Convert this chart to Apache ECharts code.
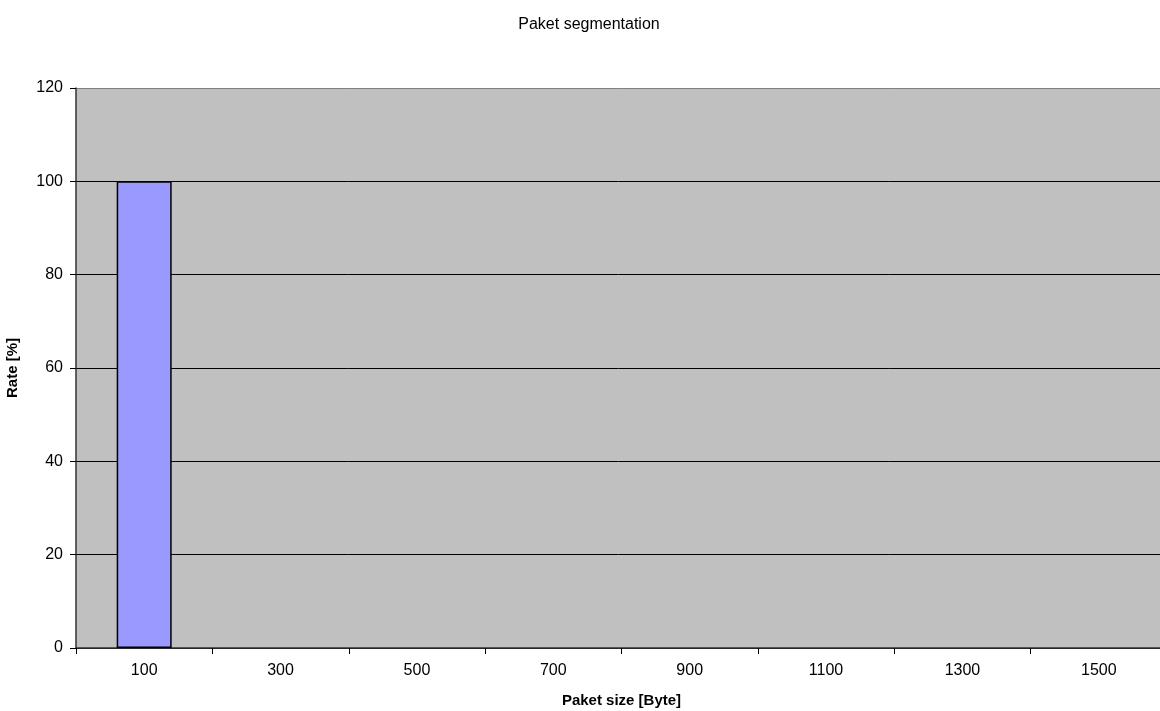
<!DOCTYPE html>
<html><head><meta charset="utf-8">
<script src="https://cdn.jsdelivr.net/npm/echarts@6/dist/echarts.min.js"></script>
<style>html,body{margin:0;padding:0;background:#fff}#c{width:1160px;height:711px}</style>
</head><body><div id="c"></div>
<script>
const categories = ['100','300','500','700','900','1100','1300','1500'];
const rateValues = [100, 0, 0, 0, 0, 0, 0, 0];
const yTicks = [0, 20, 40, 60, 80, 100, 120];

const chart = echarts.init(document.getElementById('c'), null, {renderer:'canvas'});
const font = 'Liberation Sans, Arial, sans-serif';
const barData = rateValues.map(v => v === 0 ? {value: v, itemStyle: {borderWidth: 0}} : v);
chart.setOption({
  animation: false,
  title: {
    text: 'Paket segmentation', left: 584, textAlign: 'center', top: 12,
    textStyle: {fontFamily: font, fontSize: 16, fontWeight: 'normal', color: '#000'}
  },
  grid: {left: 76, top: 88, width: 1091, height: 560, show: true,
    backgroundColor: '#c0c0c0', borderWidth: 0, outerBoundsMode: 'none', containLabel: false},
  xAxis: {
    type: 'category', data: categories, boundaryGap: true,
    name: 'Paket size [Byte]', nameLocation: 'middle', nameGap: 45,
    nameTextStyle: {fontFamily: font, fontSize: 15, fontWeight: 'bold', color: '#000'},
    axisLine: {lineStyle: {color: '#333', width: 1.5}},
    axisTick: {show: true, length: 6, lineStyle: {color: '#000'}},
    axisLabel: {fontFamily: font, fontSize: 16, color: '#000', margin: 15}
  },
  yAxis: {
    type: 'value', min: yTicks[0], max: yTicks[yTicks.length-1], interval: 20,
    name: 'Rate [%]', nameLocation: 'middle', nameGap: 56,
    nameTextStyle: {fontFamily: font, fontSize: 15, fontWeight: 'bold', color: '#000'},
    axisLine: {show: true, lineStyle: {color: '#333', width: 1.5}},
    axisTick: {show: true, length: 6, lineStyle: {color: '#000'}},
    axisLabel: {fontFamily: font, fontSize: 16, color: '#000', margin: 13},
    splitLine: {show: true, lineStyle: {color: ['#000','#000','#000','#000','#000','#000','#808080'], width: 1}}
  },
  series: [{
    type: 'bar', data: barData, barWidth: 55,
    itemStyle: {color: '#9999ff', borderColor: '#000', borderWidth: 1.5}
  }]
});
</script></body></html>
